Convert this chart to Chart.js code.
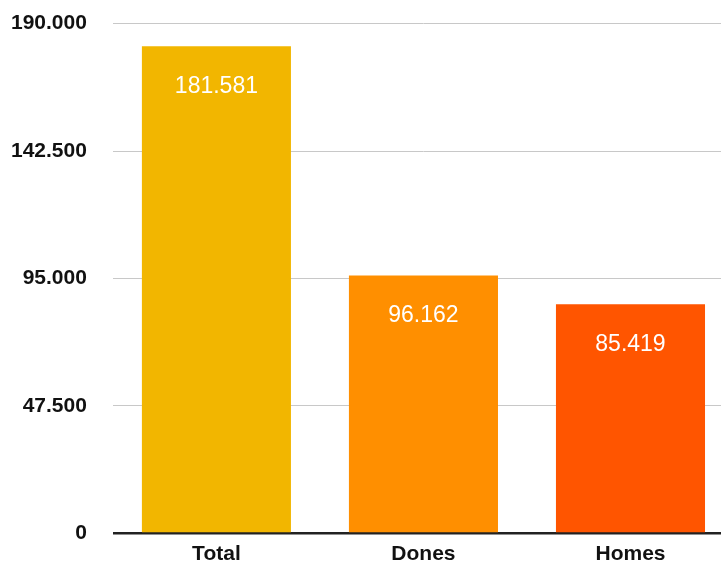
<!DOCTYPE html>
<html>
<head>
<meta charset="utf-8">
<script src="https://cdn.jsdelivr.net/npm/chart.js@4/dist/chart.umd.min.js"></script>
<style>
  html, body { margin: 0; padding: 0; background: #fff; overflow: hidden; }
  #wrap { width: 759px; height: 587px; margin-top: -15px; margin-left: -25px; }
</style>
</head>
<body>
<div id="wrap"><canvas id="chart"></canvas></div>
<script>
// chart data
const categories = ['Total', 'Dones', 'Homes'];
const values = [181581, 96162, 85419];
const barColors = ['#F2B600', '#FF8F00', '#FF5500'];
const yTicks = [0, 47500, 95000, 142500, 190000];

// 190000 -> "190.000"
function fmt(n) {
    return String(n).replace(/\B(?=(\d{3})+(?!\d))/g, '.');
}

// Value labels inside the bars, near the top
const insideLabels = {
    id: 'insideLabels',
    afterDatasetsDraw(chart) {
        const ctx = chart.ctx;
        const meta = chart.getDatasetMeta(0);
        ctx.save();
        ctx.fillStyle = '#fff';
        ctx.font = '23px "Liberation Sans", Arial, sans-serif';
        ctx.textAlign = 'center';
        ctx.textBaseline = 'middle';
        meta.data.forEach(function (bar, i) {
            ctx.fillText(fmt(values[i]), bar.x, bar.y + 40);
        });
        ctx.restore();
    }
};

document.addEventListener('DOMContentLoaded', function () {
    const ctx = document.getElementById('chart').getContext('2d');
    new Chart(ctx, {
        type: 'bar',
        data: {
            labels: categories,
            datasets: [{
                data: values,
                backgroundColor: barColors,
                borderWidth: 0,
                barPercentage: 0.72,
                categoryPercentage: 1
            }]
        },
        options: {
            responsive: true,
            maintainAspectRatio: false,
            animation: false,
            events: [],
            layout: { padding: { top: 12, right: 0, bottom: 0, left: 10 } },
            plugins: {
                legend: { display: false },
                tooltip: { enabled: false }
            },
            scales: {
                x: {
                    grid: { display: false },
                    border: { display: false },
                    ticks: {
                        color: '#111',
                        font: { family: '"Liberation Sans", Arial, sans-serif', size: 21, weight: 'bold' },
                        padding: 0
                    }
                },
                y: {
                    min: 0,
                    max: 190000,
                    afterBuildTicks: function (axis) {
                        axis.ticks = yTicks.map(v => ({ value: v }));
                    },
                    border: { display: false },
                    grid: {
                        drawTicks: false,
                        color: c => c.tick && c.tick.value === 0 ? '#222' : '#c8c8c8',
                        lineWidth: c => c.tick && c.tick.value === 0 ? 2.5 : 1
                    },
                    ticks: {
                        color: '#111',
                        padding: 26,
                        font: { family: '"Liberation Sans", Arial, sans-serif', size: 21, weight: 'bold' },
                        callback: v => fmt(v)
                    }
                }
            }
        },
        plugins: [insideLabels]
    });
});
</script>
</body>
</html>
